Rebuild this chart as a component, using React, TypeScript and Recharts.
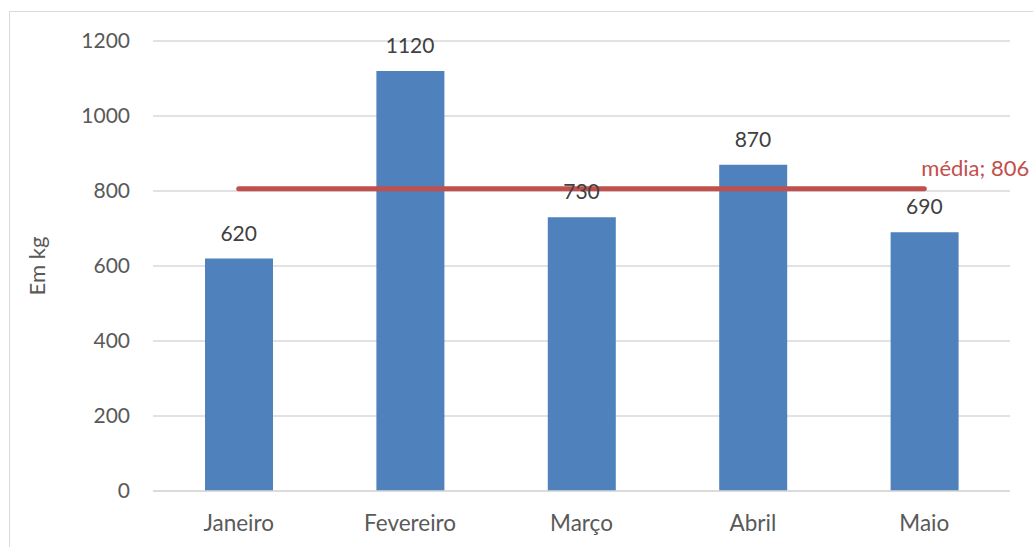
import React from "react";
import {
  Bar,
  CartesianGrid,
  ComposedChart,
  LabelList,
  Line,
  XAxis,
  YAxis,
} from "recharts";

const months = ["Janeiro", "Fevereiro", "Março", "Abril", "Maio"];
const kg = [620, 1120, 730, 870, 690];
const media = 806;
const yTicks = [0, 200, 400, 600, 800, 1000, 1200];

const data = months.map((m, i) => ({ month: m, kg: kg[i], media }));

const FONT = "Lato, 'Open Sans', sans-serif";
const TEXT = "#595959";

function MediaLabel(props: any) {
  const { x, y, index } = props;
  if (index !== months.length - 1) return null;
  return (
    <text
      x={x - 3}
      y={y - 13}
      fill="#C0504D"
      fontSize={22}
      fontFamily={FONT}
      textAnchor="start"
    >
      {`média; ${media}`}
    </text>
  );
}

export default function App() {
  return (
    <div
      style={{
        position: "absolute",
        left: 0,
        top: 0,
        width: 1033,
        height: 547,
        background: "#fff",
        overflow: "hidden",
        fontFamily: FONT,
      }}
    >
      <div
        style={{
          position: "absolute",
          left: 9,
          top: 11,
          width: 1100,
          height: 600,
          border: "1px solid #d9d9d9",
        }}
      />
      <div style={{ position: "absolute", left: 0, top: 0 }}>
        <ComposedChart
          width={1033}
          height={547}
          data={data}
          margin={{ top: 41, right: 23, bottom: 0, left: 0 }}
        >
          <CartesianGrid vertical={false} stroke="#d9d9d9" strokeWidth={1.5} />
          <XAxis
            dataKey="month"
            height={56}
            axisLine={{ stroke: "#d9d9d9", strokeWidth: 1.5 }}
            tickLine={false}
            tickSize={0}
            tickMargin={24}
            tick={{ fill: TEXT, fontSize: 22.5, fontFamily: FONT }}
          />
          <YAxis
            width={153}
            domain={[0, 1200]}
            ticks={yTicks}
            axisLine={false}
            tickLine={false}
            tickSize={0}
            tickMargin={23}
            tick={{ fill: TEXT, fontSize: 21, fontFamily: FONT }}
            label={{
              value: "Em kg",
              angle: -90,
              position: "center",
              dx: -39,
              fill: TEXT,
              fontSize: 22,
              fontFamily: FONT,
            }}
          />
          <Bar
            dataKey="kg"
            fill="#4F81BD"
            barSize={68}
            isAnimationActive={false}
          />
          <Line
            dataKey="media"
            stroke="#C0504D"
            strokeWidth={5}
            strokeLinecap="round"
            dot={false}
            activeDot={false}
            isAnimationActive={false}
          >
            <LabelList dataKey="media" content={<MediaLabel />} />
          </Line>
          <Line
            dataKey="kg"
            stroke="none"
            dot={false}
            activeDot={false}
            isAnimationActive={false}
          >
            <LabelList
              dataKey="kg"
              position="top"
              offset={18}
              fill="#404040"
              fontSize={21}
              fontFamily={FONT}
            />
          </Line>
        </ComposedChart>
      </div>
    </div>
  );
}
